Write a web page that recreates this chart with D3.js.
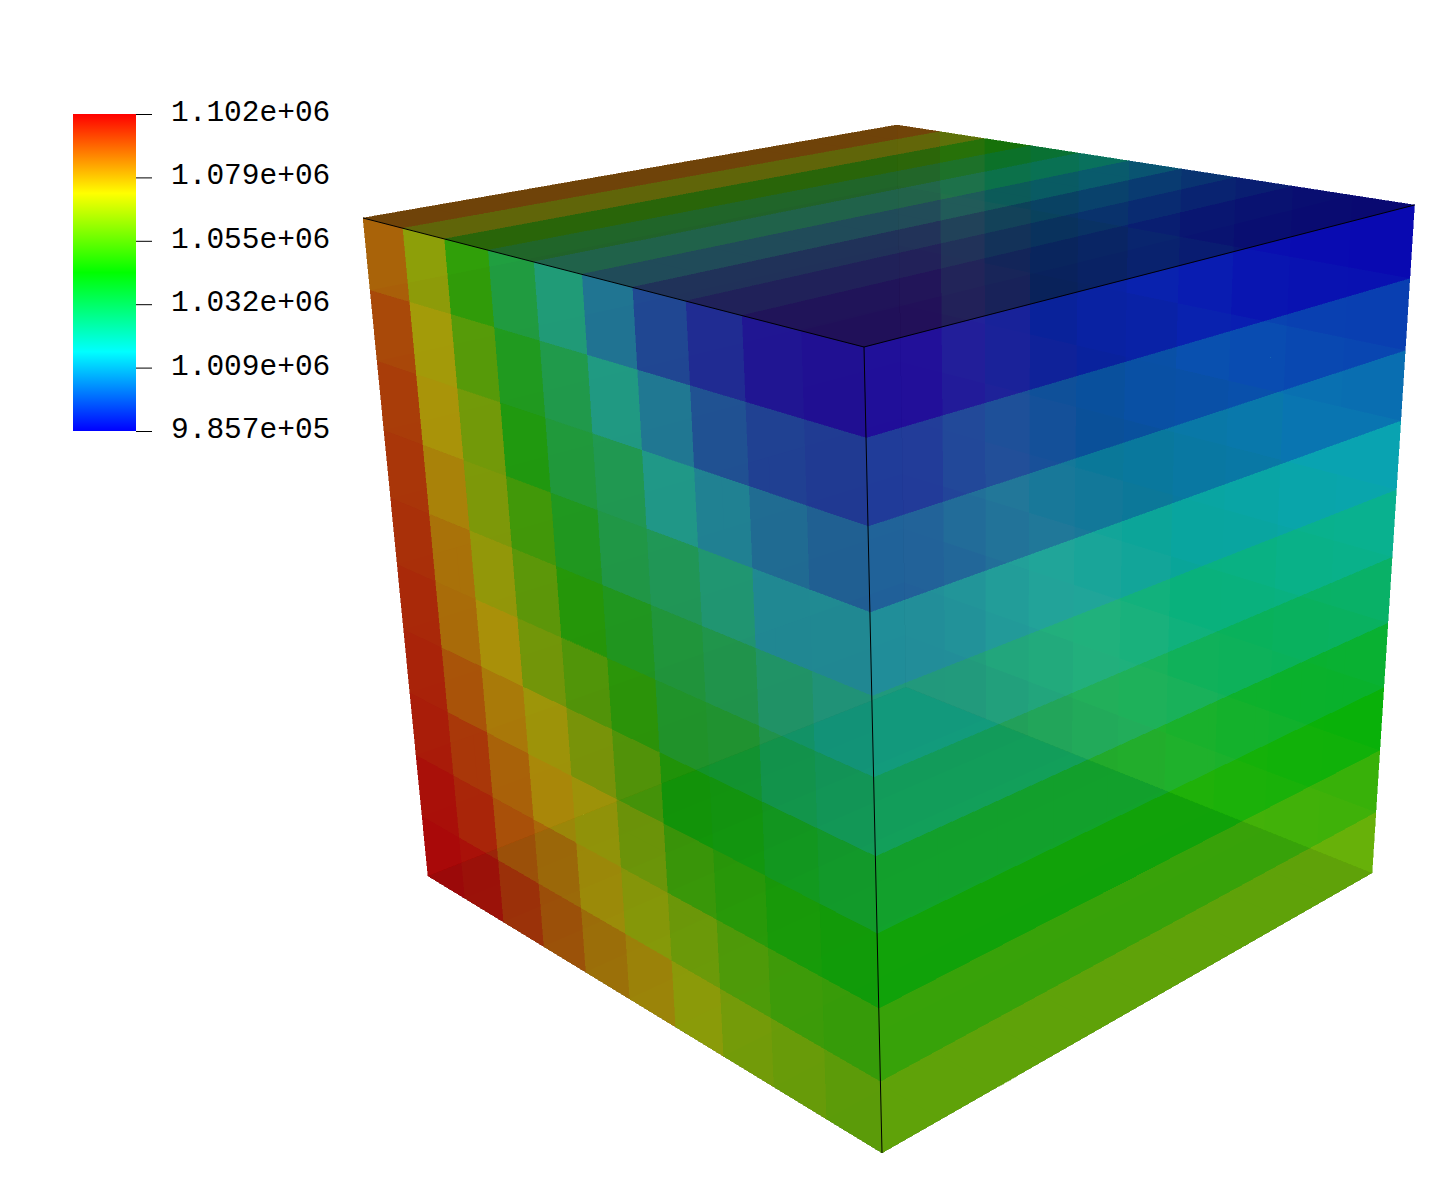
<!DOCTYPE html>
<html>
<head>
<meta charset="utf-8">
<script src="https://cdn.jsdelivr.net/npm/d3@7"></script>
<style>
html,body{margin:0;padding:0;background:#fff}
svg{display:block}
</style>
</head>
<body>
<svg id="chart" width="1430" height="1200"></svg>
<script>
// Field values (thousands) read per cell: rows run top to bottom of the cube,
// columns run from the left corner to the front corner.
const row0 = [1085.7,1067.1,1047.3,1032.2,1020.6,1006.6,997.3,991.5,986.9,985.7];
const row1 = [1090.4,1071.8,1055.5,1039.2,1029.9,1018.3,1007.8,999.7,996.2,995.0];
const row2 = [1092.7,1074.1,1061.3,1042.7,1033.4,1028.7,1017.1,1010.1,1005.5,1003.1];
const row3 = [1093.9,1077.6,1063.6,1050.8,1039.2,1031.1,1027.6,1021.8,1012.0,1012.4];
const row4 = [1095.0,1081.1,1068.3,1056.6,1045.0,1039.2,1033.4,1029.9,1024.1,1020.6];
const row5 = [1096.2,1082.2,1074.1,1061.3,1054.3,1046.2,1036.9,1035.7,1029.9,1027.6];
const row6 = [1097.4,1086.9,1078.7,1070.6,1062.5,1054.3,1043.9,1042.7,1039.2,1036.9];
const row7 = [1098.5,1092.7,1083.4,1075.3,1070.6,1062.5,1052.0,1048.5,1045.0,1043.9];
const row8 = [1100.8,1096.2,1086.9,1082.2,1075.3,1068.3,1062.5,1056.6,1053.2,1052.0];
const row9 = [1102.0,1100.3,1093.9,1087.5,1081.6,1077.6,1069.4,1064.8,1062.5,1060.1];
const rows = [row0,row1,row2,row3,row4,row5,row6,row7,row8,row9];

const tickLabels = ["1.102e+06","1.079e+06","1.055e+06","1.032e+06","1.009e+06","9.857e+05"];
const colorStops = ["#0000ff","#00ffff","#00ff00","#ffff00","#ff0000"];
const valueMin = 985.7, valueMax = 1102.0;

// Projection of the eight cube corners on the page
const corner = {
  L:[363,218], F:[864,347], R:[1414.5,205], B:[897,125],
  Lb:[428,876], Fb:[882,1153], Rb:[1372,873], Bb:[906,687]
};
const alpha = 0.8;

const color = d3.scaleLinear()
  .domain(d3.range(5).map(i => valueMin + (valueMax-valueMin)*i/4))
  .range(colorStops)
  .interpolate(d3.interpolateRgb);

function shaded(v, s){
  const c = d3.rgb(color(v));
  return d3.rgb(c.r*s, c.g*s, c.b*s).formatHex();
}

// unit square -> quad homography
function homography(p0,p1,p2,p3){ // (0,0),(1,0),(1,1),(0,1)
  const dx1=p1[0]-p2[0], dx2=p3[0]-p2[0], sx=p0[0]-p1[0]+p2[0]-p3[0];
  const dy1=p1[1]-p2[1], dy2=p3[1]-p2[1], sy=p0[1]-p1[1]+p2[1]-p3[1];
  const det=dx1*dy2-dx2*dy1;
  const g=(sx*dy2-dx2*sy)/det, h=(dx1*sy-sx*dy1)/det;
  const a=p1[0]-p0[0]+g*p1[0], b=p3[0]-p0[0]+h*p3[0], c=p0[0];
  const d=p1[1]-p0[1]+g*p1[1], e=p3[1]-p0[1]+h*p3[1], f=p0[1];
  return (u,v)=>{const w=g*u+h*v+1; return [(a*u+b*v+c)/w,(d*u+e*v+f)/w];};
}

const gridScale = d3.scaleLinear().domain([0,10]).range([0,1]);
const svg = d3.select("#chart");

// faces, back to front: corners in order (u0v0,u1v0,u1v1,u0v1), value lookup, shade
const faces = [
  {id:"bottom",   q:["Lb","Fb","Rb","Bb"], val:(i,j)=>row9[i],    shade:0.22},
  {id:"backLeft", q:["L","B","Bb","Lb"],   val:(i,j)=>rows[j][0], shade:0.55},
  {id:"backRight",q:["B","R","Rb","Bb"],   val:(i,j)=>rows[j][i], shade:0.6},
  {id:"top",      q:["L","F","R","B"],     val:(i,j)=>row0[i],    shade:0.39},
  {id:"left",     q:["L","F","Fb","Lb"],   val:(i,j)=>rows[j][i], shade:0.67},
  {id:"right",    q:["F","R","Rb","Fb"],   val:(i,j)=>rows[j][9], shade:0.7}
];

const cells = d3.cross(d3.range(10), d3.range(10), (i,j)=>({i,j}));
const poly = d3.line();

faces.forEach(face=>{
  const H = homography(...face.q.map(k=>corner[k]));
  svg.append("g").attr("class","face "+face.id)
    .attr("opacity", alpha)
    .selectAll("path").data(cells).join("path")
    .attr("shape-rendering","crispEdges")
    .attr("fill", d=>shaded(face.val(d.i,d.j), face.shade))
    .attr("stroke", d=>shaded(face.val(d.i,d.j), face.shade))
    .attr("stroke-width",0.4)
    .attr("d", d=>{
      const x0=gridScale(d.i), x1=gridScale(d.i+1), y0=gridScale(d.j), y1=gridScale(d.j+1);
      return poly([H(x0,y0),H(x1,y0),H(x1,y1),H(x0,y1)])+"Z";
    });
});

// visible cube edges
svg.append("g").selectAll("line")
  .data([["L","F"],["F","R"],["F","Fb"]]).join("line")
  .attr("x1",d=>corner[d[0]][0]).attr("y1",d=>corner[d[0]][1])
  .attr("x2",d=>corner[d[1]][0]).attr("y2",d=>corner[d[1]][1])
  .attr("stroke","#000").attr("stroke-width",1);

// legend
const legendY = d3.scalePoint().domain(tickLabels).range([114,431]);
const legendV = d3.scaleLinear().domain([valueMax,valueMin]).range([114,431]);
const grad = svg.append("defs").append("linearGradient")
  .attr("id","ramp").attr("x1",0).attr("x2",0).attr("y1",1).attr("y2",0);
colorStops.forEach((c,i)=>grad.append("stop").attr("offset",i/4).attr("stop-color",c));
svg.append("rect").attr("x",73).attr("width",63)
  .attr("y",legendV(valueMax)).attr("height",legendV(valueMin)-legendV(valueMax))
  .attr("fill","url(#ramp)");

const axis = d3.axisRight(legendY).tickSize(16).tickPadding(19);
const ag = svg.append("g").attr("transform","translate(136,0)").call(axis);
ag.select(".domain").remove();
ag.selectAll("line").attr("stroke","#000");
ag.selectAll("text")
  .attr("fill","#000")
  .attr("font-family","'Liberation Mono'")
  .attr("font-size",29.5)
  .attr("dy","0.32em")
  .attr("y",-3);
</script>
</body>
</html>
